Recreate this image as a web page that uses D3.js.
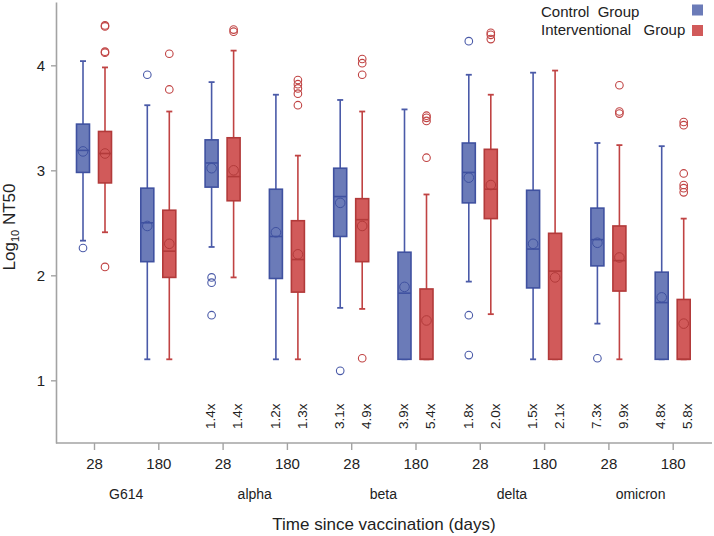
<!DOCTYPE html>
<html>
<head>
<meta charset="utf-8">
<script src="https://cdn.jsdelivr.net/npm/d3@7/dist/d3.min.js"></script>
<style>
  html, body { margin: 0; padding: 0; background: #fff; }
  svg { display: block; font-family: "Liberation Sans", Arial, sans-serif; }
</style>
</head>
<body>
<svg id="chart" width="714" height="536"></svg>
<script>
// ---------- data ----------
const variants = ["G614", "alpha", "beta", "delta", "omicron"];
const days = ["28", "180"];
const seriesNames = ["Control Group", "Interventional Group"];

// [whisker low, Q1, median, Q3, whisker high] per variant/day (10 rows)
const controlStats = [
  [2.33, 2.98, 3.19, 3.44, 4.04],
  [1.20, 2.13, 2.50, 2.83, 3.62],
  [2.27, 2.84, 3.07, 3.29, 3.84],
  [1.20, 1.97, 2.37, 2.82, 3.72],
  [1.69, 2.37, 2.75, 3.02, 3.67],
  [1.20, 1.20, 1.83, 2.22, 3.58],
  [1.94, 2.69, 2.98, 3.26, 3.91],
  [1.20, 1.88, 2.25, 2.81, 3.93],
  [1.54, 2.09, 2.34, 2.64, 3.26],
  [1.20, 1.20, 1.74, 2.03, 3.23]
];
const interventionalStats = [
  [2.41, 2.88, 3.16, 3.37, 3.98],
  [1.20, 1.98, 2.23, 2.62, 3.56],
  [1.98, 2.71, 2.94, 3.31, 4.14],
  [1.20, 1.84, 2.15, 2.52, 3.14],
  [1.68, 2.13, 2.53, 2.73, 3.56],
  [1.20, 1.20, 1.20, 1.87, 2.77],
  [1.63, 2.54, 2.82, 3.20, 3.72],
  [1.20, 1.20, 2.04, 2.40, 3.95],
  [1.20, 1.85, 2.14, 2.47, 3.24],
  [1.20, 1.20, 1.20, 1.77, 2.54]
];
const controlMeans = [3.18, 2.47, 3.02, 2.41, 2.69, 1.89, 2.93, 2.30, 2.31, 1.79];
const interventionalMeans = [3.16, 2.30, 3.00, 2.20, 2.47, 1.57, 2.86, 1.98, 2.17, 1.54];
const controlOutliers = [
  [2.26], [3.91], [1.98, 1.93, 1.62], [], [1.09], [],
  [4.23, 1.62, 1.24], [], [1.21], []
];
const interventionalOutliers = [
  [4.38, 4.37, 4.13, 4.12, 2.08], [4.11, 3.77], [4.34, 4.32],
  [3.86, 3.82, 3.78, 3.73, 3.62], [4.06, 4.02, 3.91, 1.21],
  [3.52, 3.50, 3.47, 3.12], [4.31, 4.29, 4.25], [],
  [3.81, 3.56, 3.54], [3.46, 3.43, 2.97, 2.86, 2.83, 2.79]
];
// fold-change labels (alpha..omicron)
const controlFold = ["", "", "1.4x", "1.2x", "3.1x", "3.9x", "1.8x", "1.5x", "7.3x", "4.8x"];
const interventionalFold = ["", "", "1.4x", "1.3x", "4.9x", "5.4x", "2.0x", "2.1x", "9.9x", "5.8x"];
const yTicks = [1, 2, 3, 4];

// ---------- layout ----------
const svg = d3.select("#chart");
const plotLeft = 56, plotRight = 712, plotTop = 2, plotBottom = 443;
const keys = [];
variants.forEach(v => days.forEach(d => keys.push(v + "|" + d)));

const x = d3.scalePoint().domain(keys).range([94, 672.7]);
const sub = d3.scaleOrdinal().domain(seriesNames).range([-11, 11]);
const y = d3.scaleLinear().domain([0.403, 4.603]).range([plotBottom, plotTop]);

const styles = {
  "Control Group": { fill: "#6b7bb8", stroke: "#3f51a0", line: "#4a5aa8" },
  "Interventional Group": { fill: "#d15a5a", stroke: "#b23a3a", line: "#c04343" }
};
const axisColor = "#a3a3a3";

// ---------- axes ----------
const yAxis = svg.append("g")
  .attr("transform", `translate(${plotLeft},0)`)
  .call(d3.axisLeft(y).tickValues(yTicks).tickFormat(d3.format("d")).tickSize(5).tickSizeOuter(0).tickPadding(6));
yAxis.select(".domain").attr("stroke", axisColor).attr("stroke-width", 1.6);
yAxis.selectAll(".tick line").attr("stroke", axisColor).attr("stroke-width", 1.4);
yAxis.selectAll(".tick text").attr("font-size", 15).attr("fill", "#222");

const xAxis = svg.append("g")
  .attr("transform", `translate(0,${plotBottom})`)
  .call(d3.axisBottom(x).tickFormat(k => k.split("|")[1]).tickSize(7).tickSizeOuter(0).tickPadding(8));
xAxis.select(".domain").remove();
xAxis.selectAll(".tick line").attr("stroke", axisColor).attr("stroke-width", 1.4);
xAxis.selectAll(".tick text").attr("font-size", 15).attr("fill", "#222");
svg.append("line")
  .attr("x1", plotLeft).attr("x2", plotRight)
  .attr("y1", plotBottom).attr("y2", plotBottom)
  .attr("stroke", axisColor).attr("stroke-width", 1.6);

// group labels
svg.append("g").selectAll("text").data(variants).join("text")
  .attr("x", v => (x(v + "|28") + x(v + "|180")) / 2)
  .attr("y", 494)
  .attr("dy", "0.35em")
  .attr("text-anchor", "middle")
  .attr("font-size", 14)
  .attr("fill", "#222")
  .text(v => v);

svg.append("text")
  .attr("x", (plotLeft + plotRight) / 2)
  .attr("y", 524)
  .attr("dy", "0.35em")
  .attr("text-anchor", "middle")
  .attr("font-size", 17)
  .attr("fill", "#222")
  .text("Time since vaccination (days)");

const yl = svg.append("text")
  .attr("transform", "translate(15,227) rotate(-90)")
  .attr("text-anchor", "middle")
  .attr("font-size", 17)
  .attr("fill", "#222");
yl.append("tspan").text("Log");
yl.append("tspan").attr("font-size", 11).attr("dy", 4).text("10");
yl.append("tspan").attr("dy", -4).text(" NT50");

// ---------- boxes ----------
const series = [
  { name: "Control Group", stats: controlStats, means: controlMeans, outliers: controlOutliers, fold: controlFold, foldOff: -12 },
  { name: "Interventional Group", stats: interventionalStats, means: interventionalMeans, outliers: interventionalOutliers, fold: interventionalFold, foldOff: 15 }
];
const boxW = 13, capW = 6;

series.forEach(s => {
  const st = styles[s.name];
  const g = svg.append("g");
  keys.forEach((k, i) => {
    const cx = x(k) + sub(s.name);
    const [lo, q1, med, q3, hi] = s.stats[i];
    // whiskers
    g.append("line").attr("x1", cx).attr("x2", cx).attr("y1", y(hi)).attr("y2", y(q3))
      .attr("stroke", st.line).attr("stroke-width", 1.6);
    g.append("line").attr("x1", cx).attr("x2", cx).attr("y1", y(q1)).attr("y2", y(lo))
      .attr("stroke", st.line).attr("stroke-width", 1.6);
    [lo, hi].forEach(v => {
      g.append("line").attr("x1", cx - capW / 2).attr("x2", cx + capW / 2)
        .attr("y1", y(v)).attr("y2", y(v))
        .attr("stroke", st.line).attr("stroke-width", 1.8);
    });
    // box
    g.append("rect")
      .attr("x", cx - boxW / 2).attr("width", boxW)
      .attr("y", y(q3)).attr("height", Math.max(0, y(q1) - y(q3)))
      .attr("fill", st.fill).attr("stroke", st.stroke).attr("stroke-width", 1.6);
    // median
    g.append("line").attr("x1", cx - boxW / 2).attr("x2", cx + boxW / 2)
      .attr("y1", y(med)).attr("y2", y(med))
      .attr("stroke", st.stroke).attr("stroke-width", 1.6);
    // mean
    g.append("circle").attr("cx", cx).attr("cy", y(s.means[i])).attr("r", 4.8)
      .attr("fill", "none").attr("stroke", st.stroke).attr("stroke-width", 1);
    // outliers
    g.selectAll(null).data(s.outliers[i]).join("circle")
      .attr("cx", cx).attr("cy", d => y(d)).attr("r", 3.8)
      .attr("fill", "none").attr("stroke", st.line).attr("stroke-width", 1.1);
    // fold labels
    if (s.fold[i]) {
      g.append("text")
        .attr("transform", `translate(${x(k) + s.foldOff},429) rotate(-90)`)
        .attr("dy", "0.35em")
        .attr("text-anchor", "start")
        .attr("font-size", 13.5)
        .attr("fill", "#222")
        .text(s.fold[i]);
    }
  });
});

// ---------- legend ----------
const legend = svg.append("g");
seriesNames.forEach((n, i) => {
  legend.append("text")
    .attr("x", 541).attr("y", 12 + i * 18).attr("dy", "0.35em")
    .attr("font-size", 15).attr("fill", "#222")
    .attr("xml:space", "preserve")
    .text(n.replace(" Group", i === 0 ? "  Group" : "   Group"));
  legend.append("rect")
    .attr("x", 692).attr("y", 4.5 + i * 20.5).attr("width", 11).attr("height", 11)
    .attr("fill", styles[n].fill);
});
</script>
</body>
</html>
